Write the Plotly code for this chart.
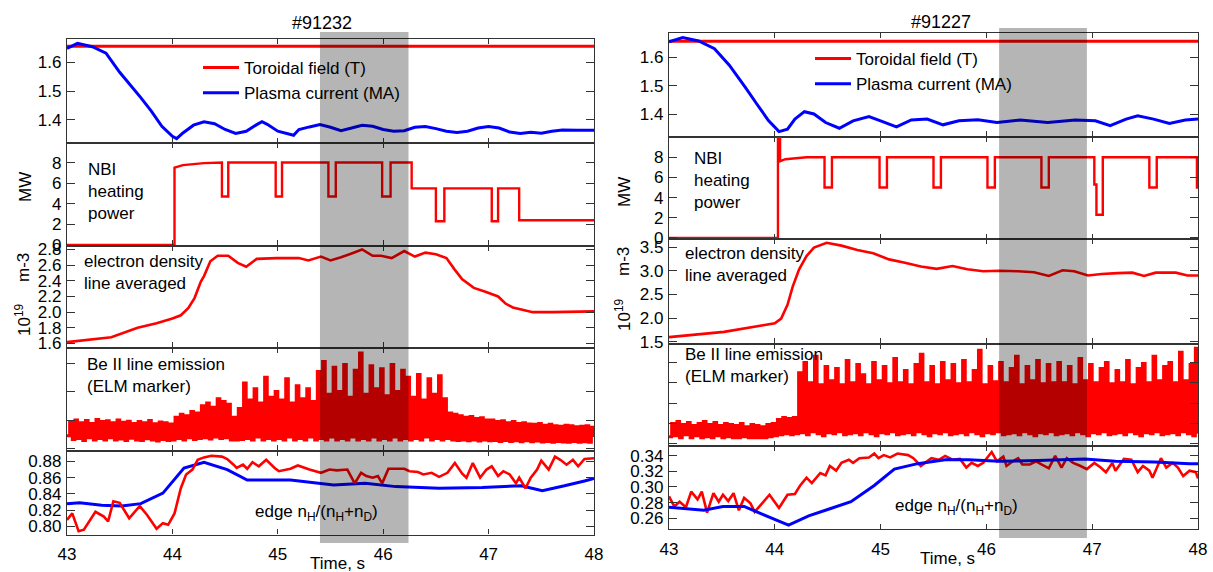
import numpy as np
import plotly.graph_objects as go

# ---------------- data ----------------
shot_titles = ["#91232", "#91227"]

# Top panel: toroidal field (T) and plasma current (MA)
bt_t = [43.0, 48.0]
bt_left = [1.656, 1.656]
bt_right = [1.656, 1.656]

ip_left_t = [43.0,43.1,43.24,43.37,43.5,43.7,43.8,43.9,44.0,44.04,44.1,44.2,44.3,44.4,44.5,44.6,44.7,44.8,44.85,44.9,
             45.0,45.15,45.2,45.3,45.4,45.5,45.6,45.7,45.8,45.9,46.0,46.1,46.2,46.3,46.4,46.5,46.6,46.7,46.8,46.9,
             47.0,47.1,47.2,47.3,47.4,47.5,47.6,47.7,47.85,48.0]
ip_left = [1.648,1.666,1.654,1.632,1.565,1.477,1.43,1.377,1.342,1.334,1.354,1.381,1.393,1.386,1.366,1.352,1.36,1.383,1.393,1.384,
           1.36,1.346,1.366,1.375,1.383,1.374,1.362,1.371,1.381,1.377,1.366,1.36,1.362,1.374,1.376,1.369,1.36,1.356,1.36,1.371,
           1.376,1.371,1.357,1.352,1.356,1.353,1.36,1.364,1.363,1.363]

ip_right_t = [43.0,43.13,43.28,43.43,43.57,43.72,43.83,43.94,44.04,44.12,44.19,44.28,44.37,44.48,44.61,44.74,44.89,45.0,
              45.15,45.29,45.44,45.59,45.74,45.92,46.1,46.32,46.58,46.84,47.03,47.17,47.32,47.43,47.58,47.73,47.88,48.0]
ip_right = [1.654,1.669,1.657,1.63,1.572,1.495,1.436,1.378,1.339,1.348,1.383,1.409,1.401,1.371,1.351,1.377,1.392,1.377,
            1.356,1.38,1.383,1.363,1.377,1.381,1.371,1.38,1.371,1.38,1.377,1.36,1.383,1.395,1.383,1.368,1.38,1.383]

# NBI heating power (MW)
nbi_left_t = [43.0,44.02,44.02,44.1,44.3,44.47,44.47,44.53,44.53,44.98,44.98,45.04,45.04,45.48,45.48,45.55,45.55,
              45.99,45.99,46.07,46.07,46.27,46.27,46.5,46.5,46.58,46.58,47.03,47.03,47.09,47.09,47.29,47.29,48.0]
nbi_left = [0,0,7.5,7.75,7.95,8.0,4.7,4.7,8.0,8.0,4.7,4.7,8.0,8.0,4.7,4.7,8.0,
            8.0,4.7,4.7,8.0,8.0,5.5,5.5,2.3,2.3,5.5,5.5,2.3,2.3,5.5,5.5,2.4,2.4]

nbi_right_t = [43.0,44.03,44.03,44.05,44.05,44.1,44.3,44.47,44.47,44.54,44.54,44.99,44.99,45.06,45.06,45.5,45.5,
               45.57,45.57,46.01,46.01,46.08,46.08,46.52,46.52,46.59,46.59,47.02,47.02,47.04,47.04,47.1,47.1,
               47.54,47.54,47.61,47.61,47.99,47.99,48.0]
nbi_right = [0,0,10.5,10.5,7.6,7.8,8.0,8.0,5.0,5.0,8.0,8.0,5.0,5.0,8.0,8.0,5.0,
             5.0,8.0,8.0,5.0,5.0,8.0,8.0,5.0,5.0,8.0,8.0,5.3,5.3,2.3,2.3,8.0,
             8.0,5.0,5.0,8.0,8.0,5.0,5.0]

# Line averaged electron density (1e19 m-3)
ne_left_t = [43.0,43.42,43.67,43.85,44.0,44.08,44.15,44.21,44.27,44.3,44.36,44.43,44.53,44.62,44.7,44.8,44.99,45.2,
             45.29,45.41,45.5,45.6,45.7,45.8,45.9,45.98,46.08,46.2,46.3,46.4,46.5,46.6,46.68,46.75,46.86,46.97,
             47.09,47.16,47.23,47.42,47.61,48.0]
ne_left = [1.617,1.68,1.8,1.86,1.92,1.96,2.05,2.18,2.39,2.46,2.65,2.72,2.72,2.63,2.58,2.68,2.69,2.69,
           2.66,2.71,2.66,2.7,2.75,2.8,2.72,2.72,2.69,2.78,2.71,2.76,2.74,2.69,2.54,2.42,2.31,2.26,
           2.2,2.11,2.06,2.0,2.0,2.01]

ne_right_t = [43.0,43.52,43.89,44.0,44.06,44.12,44.17,44.23,44.3,44.37,44.49,44.63,44.78,44.93,45.08,45.23,45.38,
              45.53,45.68,45.82,45.97,46.12,46.3,46.45,46.59,46.72,46.83,46.96,47.09,47.24,47.38,47.49,47.6,
              47.79,47.9,48.0]
ne_right = [1.6,1.71,1.85,1.89,1.99,2.28,2.67,3.03,3.31,3.49,3.59,3.53,3.44,3.37,3.24,3.17,3.09,
            3.04,3.1,3.03,2.99,3.0,2.99,2.97,2.89,3.01,2.99,2.9,2.93,2.95,2.96,2.89,2.96,
            2.96,2.9,2.9]

# Be II line emission (arbitrary units), sampled every 25 ms from 43 s to 48 s
beii_left = [0.45,0.95,0.32,1.0,0.35,0.9,0.28,0.98,0.38,0.88,
             0.3,1.02,0.35,0.95,0.3,0.97,0.38,0.9,0.3,1.0,
             0.33,0.92,0.28,0.96,0.36,0.88,0.3,0.95,0.28,0.9,
             0.34,0.98,0.3,0.87,0.26,0.93,0.32,0.9,0.28,0.86,
             0.3,
             1.1,0.35,1.2,0.3,1.15,0.38,1.3,0.32,1.25,
             0.35,1.5,0.38,1.6,0.33,1.45,0.4,1.75,0.35,1.65,0.38,1.55,
             0.3,1.1,0.3,1.4,0.32,
             2.3,0.35,1.7,0.3,2.1,0.4,1.6,0.3,2.5,0.35,1.8,0.3,2.0,
             0.35,1.7,0.3,2.45,0.4,1.6,0.3,2.2,0.35,1.75,0.3,2.1,0.4,1.65,
             0.3,2.7,0.35,3.05,0.3,1.9,0.4,2.85,0.3,2.0,0.35,2.95,0.3,1.8,0.4,2.75,0.3,3.35,
             0.35,1.9,0.3,2.9,0.4,2.1,0.3,2.8,0.35,1.85,0.3,2.95,0.4,2.0,0.3,2.75,0.35,
             2.5,0.3,1.8,0.35,2.6,0.3,1.7,0.4,2.45,0.3,1.9,0.35,2.55,0.3,1.75,0.35,
             1.25,0.3,1.2,0.28,1.15,0.3,1.1,0.27,1.12,0.3,1.05,0.26,1.08,0.3,1.0,0.27,
             1.0,0.28,0.95,0.25,0.97,0.28,0.9,0.25,0.95,0.27,0.88,0.24,0.9,0.27,0.86,0.24,0.85,0.26,0.88,0.23,
             0.82,0.25,0.85,0.22,0.8,0.25,0.78,0.23,0.82,0.22,0.8,0.25,0.76,0.22,0.78,0.24,0.8,0.22,0.75,0.4]

beii_right = [0.35,1.0,0.4,1.1,0.3,0.95,0.45,1.05,0.3,0.9,0.4,1.0,0.3,1.1,0.35,0.95,0.3,1.05,0.4,0.9,
              0.3,1.0,0.35,0.95,0.3,0.9,0.3,1.0,0.35,0.85,0.3,0.95,0.3,0.9,0.3,0.85,0.3,0.95,0.35,1.0,
              0.4,
              1.2,0.45,1.3,0.5,1.25,0.45,1.3,
              0.5,3.5,0.55,4.0,0.45,3.0,0.6,4.3,0.5,2.9,0.4,3.8,0.55,3.1,0.5,3.7,0.6,2.9,0.45,4.1,
              0.5,3.0,0.55,3.9,0.45,3.4,0.6,2.9,0.5,4.0,0.4,3.1,0.55,3.8,0.5,2.95,0.6,4.2,0.45,3.0,
              0.5,3.6,0.55,2.9,0.45,3.9,0.6,4.4,0.5,3.0,0.4,3.8,0.55,2.9,0.5,4.0,0.6,3.1,0.45,3.9,
              0.5,2.95,0.55,4.1,0.45,3.0,0.6,3.6,0.5,4.6,0.4,2.9,0.55,3.8,0.5,3.05,0.6,4.0,0.45,3.0,
              0.5,3.7,0.55,4.3,0.45,2.9,0.6,3.8,0.5,3.1,0.4,4.1,0.55,2.95,0.5,3.9,0.6,3.0,0.45,4.0,
              0.5,3.0,0.55,3.8,0.45,2.9,0.6,4.2,0.5,3.1,0.4,3.9,0.55,3.0,0.5,3.7,0.6,4.0,0.45,2.95,
              0.5,3.6,0.55,3.0,0.45,4.1,0.6,2.9,0.5,3.7,0.4,3.95,0.55,3.0,0.5,4.3,0.6,3.1,0.45,3.8,
              0.5,4.0,0.55,3.0,0.45,4.5,0.6,3.1,0.5,3.9,0.4,4.7,0.5]

# Edge nH/(nH+nD): red = spectroscopy, blue = second estimate
edge_left_red_t = [43.0,43.05,43.11,43.16,43.27,43.35,43.39,43.44,43.5,43.59,43.69,43.76,43.85,43.91,43.96,44.02,
                   44.08,44.13,44.19,44.24,44.3,44.37,44.47,44.52,44.58,44.61,44.67,44.71,44.76,44.82,44.89,44.97,
                   45.01,45.12,45.19,45.3,45.41,45.49,45.56,45.66,45.73,45.79,45.84,45.9,45.95,45.99,46.05,46.12,
                   46.2,46.25,46.33,46.38,46.46,46.53,46.61,46.68,46.75,46.79,46.85,46.92,46.98,47.03,47.09,47.14,
                   47.2,47.26,47.29,47.35,47.4,47.46,47.5,47.57,47.63,47.68,47.74,47.8,47.85,47.91,48.0]
edge_left_red = [0.808,0.816,0.794,0.796,0.818,0.812,0.806,0.831,0.829,0.81,0.825,0.814,0.797,0.804,0.802,0.816,
                 0.847,0.864,0.87,0.882,0.885,0.887,0.886,0.883,0.876,0.872,0.876,0.871,0.879,0.874,0.882,0.872,
                 0.868,0.871,0.875,0.87,0.866,0.87,0.869,0.87,0.853,0.866,0.862,0.86,0.862,0.853,0.871,0.871,
                 0.871,0.868,0.867,0.864,0.866,0.861,0.866,0.878,0.865,0.86,0.878,0.86,0.87,0.874,0.862,0.868,
                 0.864,0.853,0.86,0.847,0.86,0.87,0.881,0.87,0.886,0.882,0.876,0.882,0.874,0.883,0.884]
edge_left_blue_t = [43.0,43.12,43.33,43.52,43.7,43.91,44.11,44.3,44.52,44.71,45.12,45.53,45.83,46.12,46.53,46.94,
                    47.31,47.51,47.72,47.91,48.0]
edge_left_blue = [0.828,0.829,0.826,0.825,0.828,0.841,0.872,0.879,0.87,0.857,0.857,0.851,0.853,0.849,0.847,0.848,
                  0.85,0.844,0.85,0.856,0.859]

edge_right_red_t = [43.0,43.05,43.1,43.16,43.21,43.27,43.31,43.36,43.42,43.47,43.51,43.56,43.61,43.66,43.71,43.77,
                    43.81,43.88,43.95,44.04,44.12,44.19,44.24,44.3,44.35,44.43,44.48,44.52,44.58,44.63,44.7,44.74,
                    44.8,44.89,44.94,44.98,45.03,45.09,45.16,45.26,45.31,45.38,45.42,45.48,45.55,45.61,45.68,45.75,
                    45.81,45.86,45.92,45.97,46.05,46.1,46.16,46.19,46.25,46.3,46.34,46.41,46.47,46.52,46.59,46.65,
                    46.71,46.76,46.82,46.89,46.95,47.02,47.08,47.13,47.19,47.22,47.3,47.37,47.43,47.48,47.54,47.57,
                    47.65,47.7,47.76,47.81,47.86,47.92,47.98,48.0]
edge_right_red = [0.288,0.275,0.281,0.274,0.294,0.284,0.294,0.267,0.292,0.281,0.29,0.282,0.292,0.27,0.286,0.279,
                  0.268,0.279,0.29,0.273,0.29,0.291,0.302,0.312,0.305,0.318,0.315,0.327,0.321,0.331,0.335,0.331,
                  0.337,0.338,0.343,0.337,0.341,0.338,0.343,0.341,0.337,0.327,0.331,0.337,0.335,0.34,0.335,0.336,
                  0.325,0.331,0.327,0.331,0.345,0.333,0.339,0.327,0.333,0.337,0.329,0.329,0.333,0.329,0.324,0.34,
                  0.325,0.337,0.331,0.327,0.323,0.331,0.325,0.319,0.331,0.321,0.336,0.335,0.319,0.327,0.321,0.312,
                  0.337,0.325,0.331,0.325,0.314,0.321,0.319,0.311]
edge_right_blue_t = [43.0,43.33,43.51,43.71,43.88,44.13,44.32,44.5,44.72,44.94,45.13,45.35,45.61,45.83,46.12,46.49,
                     46.93,47.22,47.59,47.92,48.0]
edge_right_blue = [0.274,0.27,0.275,0.275,0.265,0.251,0.263,0.271,0.281,0.302,0.323,0.33,0.335,0.335,0.333,0.334,
                   0.336,0.333,0.332,0.33,0.33]

# analysed time windows (s)
window_left = [45.40, 46.24]
window_right = [46.12, 46.95]

# ---------------- layout helpers ----------------
W, H = 1213, 572
FONT = "Liberation Sans, Arial, sans-serif"
RED = "#ff0000"
BLUE = "#0000ff"
AX = "#333333"
FS = 17


def fx(p):
    return p / W


def fy(p):
    return 1 - p / H


col_x = {0: (67, 594), 1: (669, 1198)}
rows_px = {
    0: [(39, 143), (143, 245.5), (245.5, 347.5), (347.5, 450.5), (450.5, 534.5)],
    1: [(33, 136.5), (136.5, 239), (239, 343.5), (343.5, 446), (446, 529)],
}
yranges = {
    0: [[1.319, 1.681], [-0.05, 9.9], [1.549, 2.851], [-0.07, 3.544], [0.790, 0.8935]],
    1: [[1.322, 1.685], [-0.1, 10.05], [1.465, 3.67], [-0.1, 4.93], [0.246, 0.3527]],
}
ytickvals = {
    0: [[1.4, 1.5, 1.6], [0, 2, 4, 6, 8], [1.6, 1.8, 2.0, 2.2, 2.4, 2.6, 2.8], [0, 1, 2, 3],
        [0.80, 0.82, 0.84, 0.86, 0.88]],
    1: [[1.4, 1.5, 1.6], [0, 2, 4, 6, 8], [1.5, 2.0, 2.5, 3.0, 3.5], [0, 1, 2, 3, 4],
        [0.26, 0.28, 0.30, 0.32, 0.34]],
}
yformats = {0: ["", "", ".1f", "", ".2f"], 1: ["", "", ".1f", "", ".2f"]}

fig = go.Figure()
layout = dict(
    width=W, height=H, margin=dict(l=0, r=0, t=0, b=0, autoexpand=False),
    paper_bgcolor="white", plot_bgcolor="white",
    font=dict(family=FONT, size=FS, color="black"),
    showlegend=True,
)

for col in (0, 1):
    for r in range(5):
        i = col * 5 + r + 1
        s = "" if i == 1 else str(i)
        top, bot = rows_px[col][r]
        layout["xaxis" + s] = dict(
            domain=[fx(col_x[col][0]), fx(col_x[col][1])], anchor="y" + s,
            range=[43, 48], tick0=43, dtick=1, ticks="inside", ticklen=5, tickwidth=1.2,
            tickcolor=AX, showline=True, linecolor=AX, linewidth=1.3, mirror="ticks",
            showgrid=False, zeroline=False, showticklabels=(r == 4), automargin=False,
            tickfont=dict(size=FS, family=FONT, color="black"),
            ticklabelstandoff=4,
        )
        layout["yaxis" + s] = dict(
            domain=[fy(bot), fy(top)], anchor="x" + s,
            range=yranges[col][r], tickvals=ytickvals[col][r], ticks="inside", ticklen=8,
            tickwidth=1.2, tickcolor=AX, showline=True, linecolor=AX, linewidth=1.3,
            mirror="ticks", showgrid=False, zeroline=False, automargin=False,
            showticklabels=(r != 3), tickformat=yformats[col][r],
            tickfont=dict(size=FS, family=FONT, color="black"),
            ticklabelstandoff=1,
        )


def add(x, y, panel, color, width=2.6, name=None, legend=None, shape="linear"):
    s = "" if panel == 1 else str(panel)
    fig.add_trace(go.Scatter(
        x=x, y=y, mode="lines", xaxis="x" + s, yaxis="y" + s,
        line=dict(color=color, width=width, shape=shape, simplify=False),
        name=name, showlegend=name is not None, legend=legend,
        hoverinfo="skip",
    ))


be_t = np.linspace(43, 48, len(beii_left))
be_t_r = np.linspace(43, 48, len(beii_right))

# left column (#91232)
add(bt_t, bt_left, 1, RED, 3, "Toroidal field (T)", "legend")
add(ip_left_t, ip_left, 1, BLUE, 3, "Plasma current (MA)", "legend")
add(nbi_left_t, nbi_left, 2, RED, 2.4)
add(ne_left_t, ne_left, 3, RED, 2.6)
add(be_t, beii_left, 4, RED, 3, shape="hv")
add(edge_left_blue_t, edge_left_blue, 5, BLUE, 3)
add(edge_left_red_t, edge_left_red, 5, RED, 2.6)

# right column (#91227)
add(bt_t, bt_right, 6, RED, 3, "Toroidal field (T)", "legend2")
add(ip_right_t, ip_right, 6, BLUE, 3, "Plasma current (MA)", "legend2")
add(nbi_right_t, nbi_right, 7, RED, 2.4)
add(ne_right_t, ne_right, 8, RED, 2.6)
add(be_t_r, beii_right, 9, RED, 3, shape="hv")
add(edge_right_red_t, edge_right_red, 10, RED, 2.6)
add(edge_right_blue_t, edge_right_blue, 10, BLUE, 3)

layout["legend"] = dict(x=fx(198), y=fy(50), xanchor="left", yanchor="top",
                        bgcolor="rgba(0,0,0,0)", font=dict(size=FS, family=FONT),
                        tracegroupgap=0, itemwidth=36)
layout["legend2"] = dict(x=fx(810), y=fy(41), xanchor="left", yanchor="top",
                         bgcolor="rgba(0,0,0,0)", font=dict(size=FS, family=FONT),
                         tracegroupgap=0, itemwidth=36)

# shaded time windows (drawn over the data)
shapes = [
    dict(type="rect", xref="x", yref="paper", x0=window_left[0], x1=window_left[1],
         y0=fy(543), y1=fy(32), fillcolor="rgba(0,0,0,0.29)", line=dict(width=0), layer="above"),
    dict(type="rect", xref="x6", yref="paper", x0=window_right[0], x1=window_right[1],
         y0=fy(538), y1=fy(28), fillcolor="rgba(0,0,0,0.29)", line=dict(width=0), layer="above"),
]
layout["shapes"] = shapes


def ann(text, x, y, xanchor="left", angle=0, size=FS):
    return dict(text=text, x=fx(x), y=fy(y), xref="paper", yref="paper", showarrow=False,
                xanchor=xanchor, yanchor="middle", textangle=angle, align="left",
                font=dict(size=size, family=FONT, color="black"))


annotations = [
    ann(shot_titles[0], 322, 23, "center", size=18),
    ann(shot_titles[1], 941, 22, "center", size=18),
    ann("NBI<br>heating<br>power", 86, 191),
    ann("NBI<br>heating<br>power", 692, 180),
    ann("electron density<br>line averaged", 82, 272.5),
    ann("electron density<br>line averaged", 683, 264.5),
    ann("Be II line emission<br>(ELM marker)", 85, 376),
    ann("Be II line emission<br>(ELM marker)", 683, 365),
    ann("edge n<sub>H</sub>/(n<sub>H</sub>+n<sub>D</sub>)", 316, 513, "center"),
    ann("edge n<sub>H</sub>/(n<sub>H</sub>+n<sub>D</sub>)", 956, 507, "center"),
    ann("MW", 26, 187, "center", -90),
    ann("MW", 625, 192, "center", -90),
    ann("m-3", 23, 268, "center", -90),
    ann("m-3", 623, 262, "center", -90),
    ann("10<sup>19</sup>", 23, 320, "center", -90),
    ann("10<sup>19</sup>", 623, 315, "center", -90),
    ann("Time, s", 337, 563, "center"),
    ann("Time, s", 947, 558, "center"),
]
layout["annotations"] = annotations

fig.update_layout(**layout)
fig.write_html(
    "out.html",
    config={"displayModeBar": False},
    post_script="document.body.style.margin='0';document.body.style.padding='0';"
                "document.body.style.overflow='hidden';",
)
